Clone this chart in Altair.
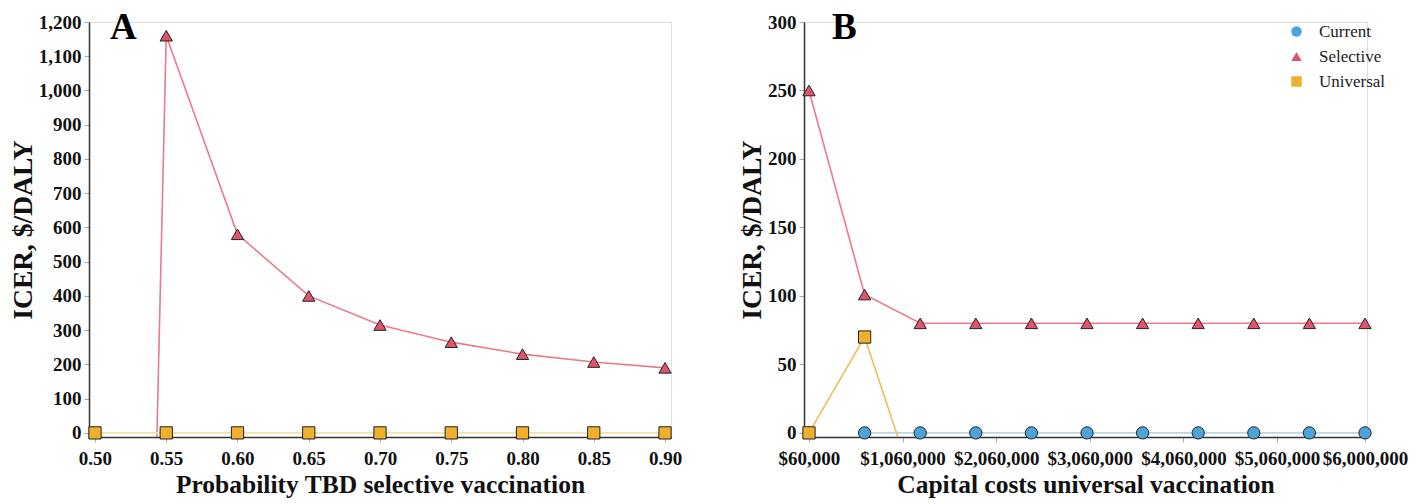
import altair as alt
import pandas as pd

SERIES = ["Current", "Selective", "Universal"]

# Panel A: probability TBD selective vaccination
a_x = [0.50, 0.55, 0.60, 0.65, 0.70, 0.75, 0.80, 0.85, 0.90]
# the 0.50 selective value lies far below the axis (line clipped at 0)
a_selective = [-7760, 1160, 580, 400, 315, 265, 230, 207, 190]
a_universal = [0, 0, 0, 0, 0, 0, 0, 0, 0]
a_xticks = [0.50, 0.55, 0.60, 0.65, 0.70, 0.75, 0.80, 0.85, 0.90]
a_yticks = [0, 100, 200, 300, 400, 500, 600, 700, 800, 900, 1000, 1100, 1200]

# Panel B: capital costs universal vaccination
b_x = [60000, 654000, 1248000, 1842000, 2436000, 3030000, 3624000,
       4218000, 4812000, 5406000, 6000000]
b_current = [None, 0, 0, 0, 0, 0, 0, 0, 0, 0, 0]
b_selective = [250, 101, 80, 80, 80, 80, 80, 80, 80, 80, 80]
b_universal = [0, 70, -52, None, None, None, None, None, None, None, None]
b_xticks = [60000, 1060000, 2060000, 3060000, 4060000, 5060000, 6000000]
b_yticks = [0, 50, 100, 150, 200, 250, 300]

panel_letters = ["A", "B"]

point_fill = ["#4DA3DB", "#E0546C", "#F0B02E"]
point_shape = ["circle", "triangle-up", "square"]

FONT = "Liberation Serif"

a_df = pd.DataFrame({
    "x": a_x * 2,
    "value": a_selective + a_universal,
    "series": ["Selective"] * len(a_x) + ["Universal"] * len(a_x),
})
b_df = pd.DataFrame({
    "x": b_x * 3,
    "value": b_current + b_selective + b_universal,
    "series": ["Current"] * len(b_x) + ["Selective"] * len(b_x) + ["Universal"] * len(b_x),
})


def axis(title, values, fmt, pads, tsize):
    return alt.Axis(
        title=title, values=values, format=fmt, grid=False,
        labelFont=FONT, labelFontWeight="bold", labelFontSize=19, labelColor="#111",
        titleFont=FONT, titleFontWeight="bold", titleFontSize=tsize, titleColor="#111",
        domainColor="#333", domainWidth=1.5, tickColor="#aaa", tickSize=5,
        labelFlush=False, labelOverlap=False, labelPadding=pads[0], titlePadding=pads[1],
    )


LEG = alt.Legend(title=None, orient="none", legendX=1199, legendY=1,
                 labelFont=FONT, labelFontSize=17, labelColor="#222",
                 symbolSize=110, symbolStrokeColor="#222", symbolStrokeWidth=1,
                 rowPadding=7, labelOffset=14, padding=0)


def panel(df, xdom, ydom, xt, yt, xfmt, xtitle, line_dom, line_rng, letter, dx, width):
    x = alt.X("x:Q", scale=alt.Scale(domain=xdom, nice=False, zero=False),
              axis=axis(xtitle, xt, xfmt, (7, 4), 25.5))
    y = alt.Y("value:Q", scale=alt.Scale(domain=ydom, nice=False, zero=False),
              axis=axis("ICER, $/DALY", yt, ",.0f", (3, 1), 27.5))
    lines = alt.Chart(df).mark_line(clip=True, strokeWidth=1.6).encode(
        x=x, y=y,
        stroke=alt.Stroke("series:N", scale=alt.Scale(domain=line_dom, range=line_rng), legend=None),
    )
    pts = alt.Chart(df).transform_filter("datum.value >= 0").mark_point(
        filled=False, size=150, stroke="#222", strokeWidth=1, opacity=1
    ).encode(
        x=x, y=y,
        fill=alt.Fill("series:N", scale=alt.Scale(domain=SERIES, range=point_fill), legend=LEG),
        shape=alt.Shape("series:N", scale=alt.Scale(domain=SERIES, range=point_shape), legend=LEG),
    )
    tag = alt.Chart(pd.DataFrame({"t": [letter]})).mark_text(
        font=FONT, fontWeight="bold", fontSize=37, color="#000",
        align="left", baseline="alphabetic"
    ).encode(text="t:N", x=alt.value(dx), y=alt.value(17))
    return alt.layer(lines, pts, tag).properties(width=width, height=415)


chart_a = panel(a_df, [0.4958, 0.9042], [-12, 1200], a_xticks, a_yticks, ".2f",
                "Probability TBD selective vaccination",
                ["Selective", "Universal"], ["#EA7A8C", "#F3E3A6"], panel_letters[0], 21, 582)
chart_b = panel(b_df, [6600, 6021400], [-3, 300], b_xticks, b_yticks, "$,.0f",
                "Capital costs universal vaccination",
                ["Current", "Selective", "Universal"], ["#B5DAE6", "#EA7A8C", "#EDBE5C"],
                panel_letters[1], 28, 563)

chart = alt.hconcat(chart_a, chart_b, spacing=55).resolve_scale(
    stroke="independent"
).properties(
    padding={"left": 0, "top": 0, "right": 0, "bottom": 0}
).configure_view(stroke=None).configure_legend(
    labelFont=FONT, symbolStrokeColor="#222", symbolStrokeWidth=1
).configure(background="white")

chart.save("out.html", embed_options={"renderer": "svg", "actions": False})
